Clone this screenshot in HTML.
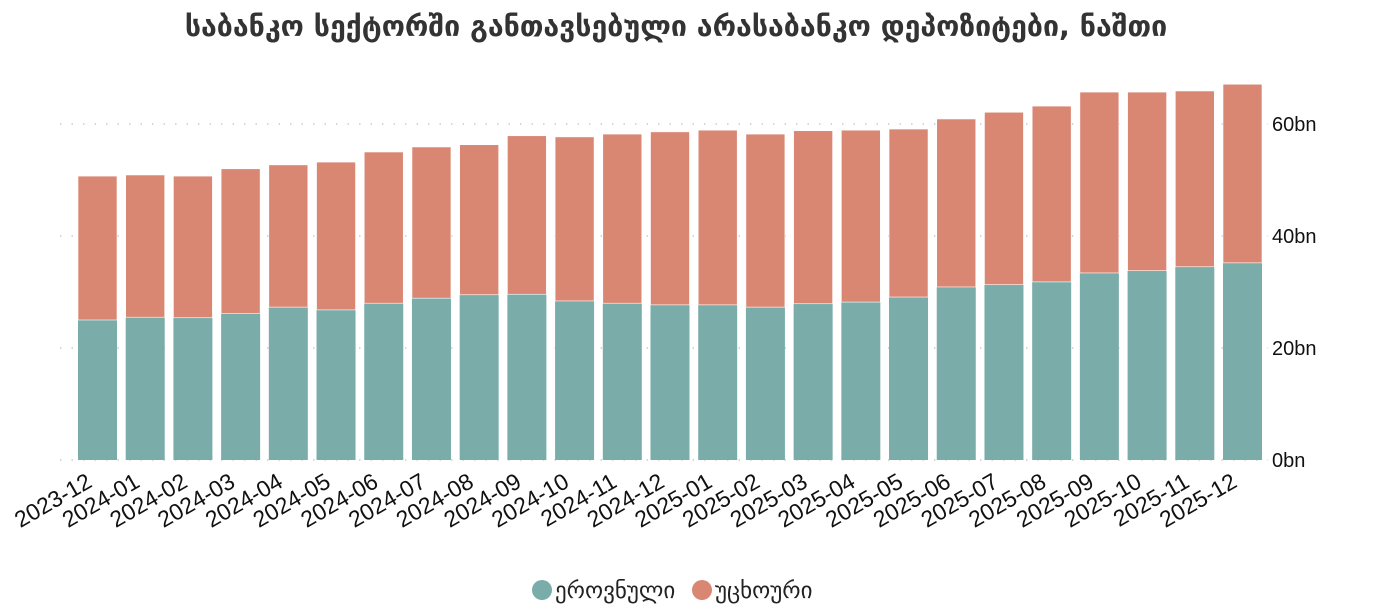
<!DOCTYPE html>
<html><head><meta charset="utf-8"><style>
body{margin:0;background:#fff;width:1382px;height:606px;overflow:hidden}
svg{display:block;font-family:"Liberation Sans","DejaVu Sans",sans-serif}
</style></head><body>
<svg id="chart" width="1382" height="606">
<text x="676" y="36" text-anchor="middle" font-size="28.5" font-weight="bold" fill="#333" font-family="'DejaVu Sans',sans-serif">საბანკო სექტორში განთავსებული არასაბანკო დეპოზიტები, ნაშთი</text>
<g id="grid"></g><g id="bars"></g><g id="xaxis"></g><g id="yaxis"></g>
<g font-family="'DejaVu Sans',sans-serif" font-size="23" fill="#222">
<g><circle cx="542" cy="590" r="10" fill="#7aaca9"/><text x="555" y="598">ეროვნული</text></g>
<g><circle cx="702" cy="590" r="10" fill="#d98773"/><text x="715" y="598">უცხოური</text></g>
</g>
</svg>
<script>
const categories=["2023-12","2024-01","2024-02","2024-03","2024-04","2024-05","2024-06","2024-07","2024-08","2024-09","2024-10","2024-11","2024-12","2025-01","2025-02","2025-03","2025-04","2025-05","2025-06","2025-07","2025-08","2025-09","2025-10","2025-11","2025-12"];
const nationalValues=[25.0,25.5,25.4,26.2,27.3,26.8,28.0,28.9,29.5,29.6,28.4,28.0,27.7,27.7,27.3,27.9,28.2,29.1,30.9,31.3,31.8,33.4,33.8,34.5,35.2];
const totalValues=[50.7,50.9,50.7,52.0,52.7,53.2,55.0,55.9,56.3,57.9,57.7,58.2,58.6,58.9,58.2,58.8,58.9,59.1,60.9,62.1,63.2,65.7,65.7,65.9,67.1];
const yTicks=[0,20,40,60];
const yTickLabels=["0bn","20bn","40bn","60bn"];
const NS="http://www.w3.org/2000/svg";
const y=v=>460-v*5.6;
const step=(1242.5-97.5)/(categories.length-1);
const xc=i=>97.5+i*step;
const bw=39;
function mk(tag,attrs,parent){const e=document.createElementNS(NS,tag);for(const k in attrs)e.setAttribute(k,attrs[k]);parent.appendChild(e);return e;}
const grid=document.getElementById('grid'),bars=document.getElementById('bars'),xa=document.getElementById('xaxis'),ya=document.getElementById('yaxis');
yTicks.forEach((t,i)=>{
 const l=mk('line',{x1:60,x2:1268,y1:y(t),y2:y(t),stroke:'#ccc','stroke-width':1.5,'stroke-dasharray':'1.5 10'},grid);
 
 
 const tx=mk('text',{x:1272,y:y(t)+7,'font-size':20,fill:'#111'},ya);
 tx.textContent=yTickLabels[i];
 
 
});
categories.forEach((c,i)=>{
 const n=nationalValues[i],tot=totalValues[i];
 const r1=mk('rect',{x:xc(i)-bw/2,y:y(n),width:bw,height:y(0)-y(n),fill:'#7aaca9'},bars);
 
 
 const r2=mk('rect',{x:xc(i)-bw/2,y:y(tot),width:bw,height:y(n)-y(tot),fill:'#d98773',stroke:'#fff','stroke-width':0.6},bars);
 
 
 const tx=mk('text',{x:xc(i)-4,y:486,'font-size':23,fill:'#111','text-anchor':'end',transform:`rotate(-30 ${xc(i)-4} 486)`},xa);
 tx.textContent=c;
 
 
});
</script>
</body></html>
